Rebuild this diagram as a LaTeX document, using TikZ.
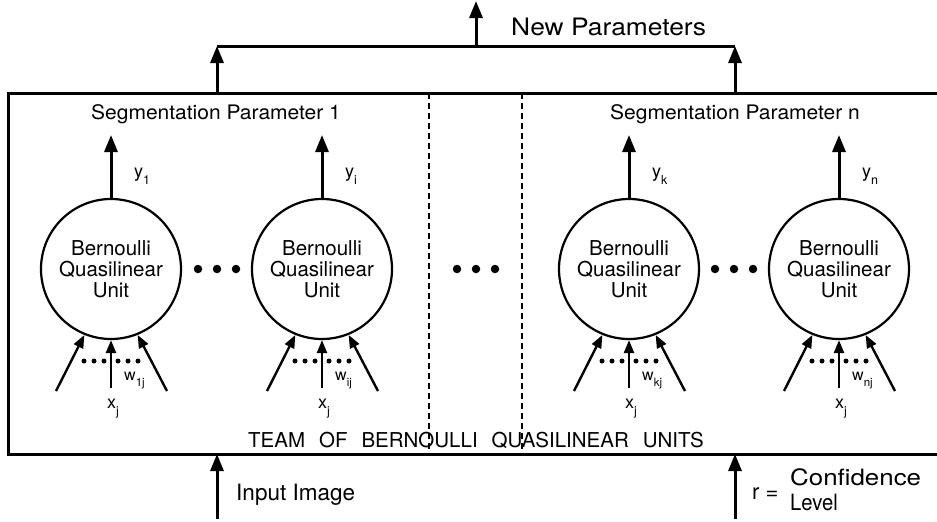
\documentclass[tikz,border=0pt]{standalone}
\usepackage{fontspec}
\setmainfont{TeX Gyre Heros}
\usetikzlibrary{arrows.meta}
\newcommand{\fsz}[1]{\fontsize{#1}{#1}\selectfont}
\newcommand{\sublab}[2]{{\fsz{18}#1}\raisebox{-7pt}{\fsz{12.5}#2}}
\newcommand{\wlab}[2]{{\fsz{16}#1}\raisebox{-6pt}{\fsz{11.5}#2}}
\begin{document}
\begin{tikzpicture}[x=1pt,y=-1pt,
  thickline/.style={line width=3pt},
  arr/.style={line width=3pt,-{Triangle[length=17pt,width=13pt]}},
  inarr/.style={line width=2.4pt,-{Triangle[length=13pt,width=10pt]}},
  unit/.style={circle,draw,line width=2.2pt,minimum size=140pt,inner sep=0pt,align=center,font=\fontsize{20.5}{21}\selectfont},
  sdot/.style={circle,fill,inner sep=0pt,minimum size=5pt},
  bdot/.style={circle,fill,inner sep=0pt,minimum size=8.5pt},
  divider/.style={line width=2pt,dash pattern=on 6pt off 4pt},
  lbl/.style={anchor=base west,inner sep=0pt}]
\useasboundingbox (0,0) rectangle (937,522);

% team box
\coordinate (tr) at (940,93);
\coordinate (tl) at (8,93);
\coordinate (bl) at (8,454);
\coordinate (br) at (940,454);
\draw[thickline] (tr) -- (tl) -- (bl) -- (br);

% dividers
\coordinate (d1t) at (429,93); \coordinate (d1b) at (429,454);
\coordinate (d2t) at (522,93); \coordinate (d2b) at (522,454);
\draw[divider] (d1t) -- (d1b);
\draw[divider] (d2t) -- (d2b);

% outputs to new parameters
\coordinate (o1) at (217,93); \coordinate (o2) at (735,93);
\coordinate (b1) at (217,46); \coordinate (b2) at (735,46);
\coordinate (bm) at (476,46); \coordinate (topend) at (476,1);
\draw[arr] (o1) -- (b1);
\draw[arr] (o2) -- (b2);
\draw[thickline] (b1) -- (b2);
\draw[arr] (bm) -- (topend);
\node[lbl,font=\fsz{24}] (np) at (511,35) {\scalebox{1.1}[1]{New Parameters}};

\node[anchor=base,inner sep=0pt,font=\fsz{20}] (sp1) at (216,119) {\scalebox{1.05}[1]{Segmentation Parameter 1}};
\node[anchor=base,inner sep=0pt,font=\fsz{20}] (spn) at (735,119) {\scalebox{1.05}[1]{Segmentation Parameter n}};

% units
\foreach \name/\cx/\ys/\ws in {u1/111/1/1j, u2/322/i/ij, u3/629/k/kj, u4/839/n/nj}{
  \node[unit] (\name) at (\cx,269) {Bernoulli\\Quasilinear\\Unit};
  \coordinate (\name y) at (\cx,135);
  \draw[arr] (\name.north) -- (\name y);
  \node[lbl] (\name ylab) at (\cx+23,177) {\sublab{y}{\ys}};
  \coordinate (\name c) at (\cx,388);
  \coordinate (\name l) at (\cx-55,391);
  \coordinate (\name r) at (\cx+56,391);
  \draw[inarr] (\name c) -- (\name.south);
  \draw[inarr] (\name l) -- (\name.-112);
  \draw[inarr] (\name r) -- (\name.-68);
  \foreach \dx in {-27,-17,-7,7,17,27}{
    \node[sdot] at (\cx+\dx,361) {};
  }
  \node[lbl] (\name w) at (\cx+13,380) {\wlab{w}{\ws}};
  \node[lbl] (\name x) at (\cx-4,408) {\sublab{x}{j}};
}

% ellipsis dots
\foreach \mx in {217,476,734}{
  \foreach \dx in {-19,0,19}{
    \node[bdot] at (\mx+\dx,269) {};
  }
}

\node[anchor=base,inner sep=0pt,font=\fsz{20.5}] (team) at (476,447)
  {TEAM\hspace{14pt}OF\hspace{14pt}BERNOULLI\hspace{14pt}QUASILINEAR\hspace{14pt}UNITS};

% inputs
\coordinate (i1) at (217,519); \coordinate (i1t) at (217,454);
\coordinate (i2) at (735,519); \coordinate (i2t) at (735,454);
\draw[arr] (i1) -- (i1t);
\draw[arr] (i2) -- (i2t);
\node[lbl,font=\fsz{22.5}] (inimg) at (236,500) {Input Image};
\node[lbl,font=\fsz{22}] (req) at (752,499) {r =};
\node[lbl,font=\fsz{22.5}] (conf) at (790,485) {\scalebox{1.15}[1]{Confidence}};
\node[lbl,font=\fsz{22.5}] (lev) at (790,510) {\scalebox{0.9}[1]{Level}};
\end{tikzpicture}
\end{document}
